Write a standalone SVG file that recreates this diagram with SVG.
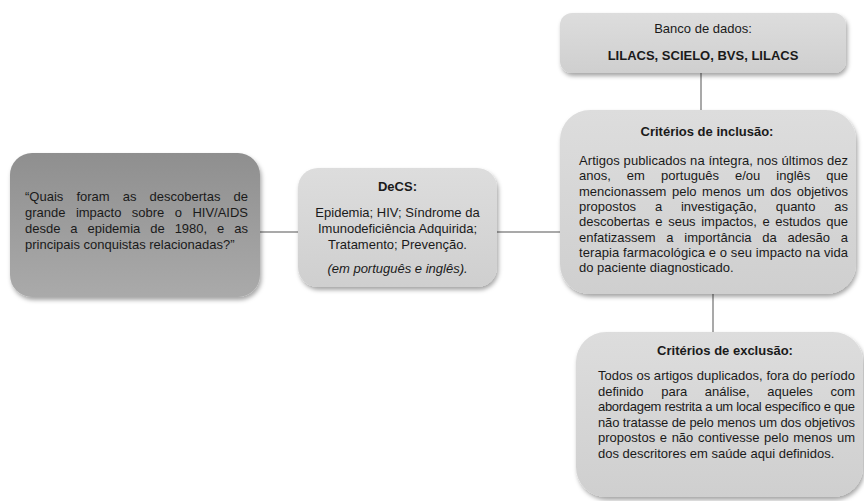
<svg xmlns="http://www.w3.org/2000/svg" width="864" height="501" viewBox="0 0 864 501">
<defs>
<linearGradient id="gDark" x1="0" y1="0" x2="0" y2="1"><stop offset="0" stop-color="#8f8f8f"/><stop offset="1" stop-color="#aaaaaa"/></linearGradient>
<linearGradient id="gLight" x1="0" y1="0" x2="0" y2="1"><stop offset="0" stop-color="#dddddd"/><stop offset="1" stop-color="#cfcfcf"/></linearGradient>
<filter id="sh" x="-10%" y="-10%" width="125%" height="130%"><feDropShadow dx="1.5" dy="3" stdDeviation="2" flood-color="#000" flood-opacity="0.35"/></filter>
</defs>
<style>
text{font-family:"Liberation Sans",Arial,sans-serif;font-size:13px;fill:#1a1a1a}
.c{text-anchor:middle}
.b{font-weight:bold}
.i{font-style:italic}
.box{fill:url(#gLight);filter:url(#sh)}
.dark{fill:url(#gDark);filter:url(#sh)}
.ln{stroke:#8c8c8c;stroke-width:1.5;fill:none}
</style>
<g id="connectors">
<line class="ln" x1="258" y1="232" x2="300" y2="232"/>
<line class="ln" x1="495" y1="232" x2="562" y2="232"/>
<line class="ln" x1="701" y1="72" x2="701" y2="112"/>
<line class="ln" x1="713" y1="293" x2="713" y2="334"/>
</g>
<g id="question">
<rect class="dark" x="10" y="153" width="250" height="144" rx="22"/>
<text x="25" y="201" word-spacing="9.5" textLength="223" lengthAdjust="spacing">“Quais foram as descobertas de</text>
<text x="25" y="217" word-spacing="6.8" textLength="223" lengthAdjust="spacing">grande impacto sobre o HIV/AIDS</text>
<text x="25" y="233" word-spacing="6.3" textLength="223" lengthAdjust="spacing">desde a epidemia de 1980, e as</text>
<text x="25" y="249">principais conquistas relacionadas?”</text>
</g>
<g id="decs">
<rect class="box" x="298" y="168" width="199" height="119" rx="20"/>
<text class="c b" x="397.5" y="191">DeCS:</text>
<text class="c" x="397.5" y="217">Epidemia; HIV; Síndrome da</text>
<text class="c" x="397.5" y="233">Imunodeficiência Adquirida;</text>
<text class="c" x="397.5" y="249">Tratamento; Prevenção.</text>
<text class="c i" x="397.5" y="273">(em português e inglês).</text>
</g>
<g id="banco">
<rect class="box" x="560" y="13" width="286" height="60" rx="12"/>
<text class="c" x="703" y="33">Banco de dados:</text>
<text class="c b" x="703" y="60">LILACS,  SCIELO, BVS, LILACS</text>
</g>
<g id="inclusao">
<rect class="box" x="560" y="110" width="296" height="184" rx="30"/>
<text class="c b" x="707" y="136">Critérios de inclusão:</text>
<text x="579" y="165" textLength="269" lengthAdjust="spacing">Artigos publicados na íntegra, nos últimos dez</text>
<text x="579" y="180.3" word-spacing="12.4" textLength="269" lengthAdjust="spacing">anos, em português e/ou inglês que</text>
<text x="579" y="195.6" word-spacing="1.9" textLength="269" lengthAdjust="spacing">mencionassem pelo menos um dos objetivos</text>
<text x="579" y="210.9" word-spacing="15.2" textLength="269" lengthAdjust="spacing">propostos a investigação, quanto as</text>
<text x="579" y="226.2" word-spacing="2" textLength="269" lengthAdjust="spacing">descobertas e seus impactos, e estudos que</text>
<text x="579" y="241.5" word-spacing="7.1" textLength="269" lengthAdjust="spacing">enfatizassem a importância da adesão a</text>
<text x="579" y="256.8" textLength="269" lengthAdjust="spacing">terapia farmacológica e o seu impacto na vida</text>
<text x="579" y="272.1">do paciente diagnosticado.</text>
</g>
<g id="exclusao">
<rect class="box" x="576" y="332" width="287" height="165" rx="30"/>
<text class="c b" x="725" y="355">Critérios de exclusão:</text>
<text x="598" y="380" textLength="257" lengthAdjust="spacing">Todos os artigos duplicados, fora do período</text>
<text x="598" y="395.5" word-spacing="14" textLength="257" lengthAdjust="spacing">definido para análise, aqueles com</text>
<text x="598" y="411" textLength="257" lengthAdjust="spacing">abordagem restrita a um local específico e que</text>
<text x="598" y="426.5" textLength="257" lengthAdjust="spacing">não tratasse de pelo menos um dos objetivos</text>
<text x="598" y="442" word-spacing="1" textLength="257" lengthAdjust="spacing">propostos e não contivesse pelo menos um</text>
<text x="598" y="457.5">dos descritores em saúde aqui definidos.</text>
</g>
</svg>
